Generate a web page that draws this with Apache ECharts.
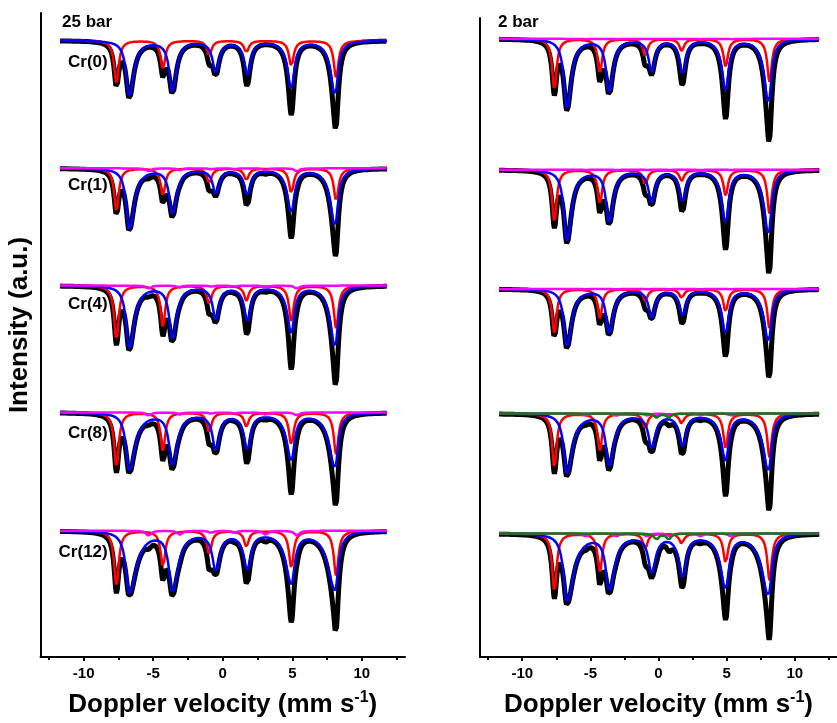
<!DOCTYPE html>
<html><head><meta charset="utf-8">
<script src="https://cdn.jsdelivr.net/npm/echarts@6/dist/echarts.min.js"></script>
<style>html,body{margin:0;padding:0;background:#fff}#c{width:837px;height:723px}</style>
</head><body><div id="c"></div>
<script>
// ---------------- data ----------------
const samples = ['Cr(0)', 'Cr(1)', 'Cr(4)', 'Cr(8)', 'Cr(12)'];
const panelTitles = ['25 bar', '2 bar'];
const xTicks = [-10, -5, 0, 5, 10];
const xMinorTicks = [-12.5, -7.5, -2.5, 2.5, 7.5, 12.5];
const velocityRange = [-11.7, 11.8];

// line positions (mm/s)
const redPos = [-7.64, -4.30, -0.97, 1.70, 4.93, 8.15];
const bluePos = [-6.72, -3.62, -0.50, 1.78, 4.93, 8.07];
const magPos = [-5.33, -3.08, -0.84, 0.84, 3.08, 5.33];
const greenPos = [-0.15, 0.75];

// 25 bar panel: baselines and line depths (a.u.)
const base25 = [620.3, 491.7, 373.7, 246, 127];
const red25 = [
  [42.6, 28.6, 15, 12, 26, 37.6],
  [42.3, 27.3, 15, 12, 25, 33],
  [54.3, 41, 19, 15, 36, 42.7],
  [55, 38.3, 20, 14, 33, 42],
  [56, 36, 24, 16, 37, 45]
];
const blue25 = [
  [56, 51, 32, 33.3, 47.6, 54.3],
  [60.7, 45.7, 24, 25.7, 43.3, 57.3],
  [62.7, 52.7, 32.7, 34, 46, 61],
  [58.3, 52.3, 36.7, 36, 46.7, 55],
  [62.7, 59.3, 37.7, 36, 51, 59.3]
];
const mag25 = [null, [3, 2, 1, 1, 2, 3], [3, 2, 1, 1, 2, 3], [3, 2, 1, 1, 2, 3], [5, 4, 2, 2, 4, 5]];
const green25 = [null, null, null, null, null];
const redHW25 = [0.2, 0.2, 0.2, 0.2, 0.2];
const blueHWout25 = [0.27, 0.27, 0.27, 0.28, 0.3];
const blueHWin25 = [0.38, 0.42, 0.42, 0.5, 0.6];

// 2 bar panel
const base2 = [622, 490.3, 370.3, 245, 124.3];
const red2 = [
  [51, 34.3, 18, 12, 28, 43],
  [52.7, 34.3, 15, 11, 26, 44],
  [44.3, 29.3, 12, 9, 23, 40],
  [54.7, 37.3, 15, 10, 35, 44],
  [58.3, 38.3, 15, 10, 30, 47]
];
const blue2 = [
  [69.3, 52.7, 31.7, 34, 51, 64.3],
  [71, 52, 32.7, 31, 52.7, 64.3],
  [57.7, 43.7, 27.7, 26, 44.3, 52.7],
  [60.7, 52.3, 34, 31, 45.7, 57.3],
  [68.3, 55, 36.7, 42, 53.3, 61.7]
];
const mag2 = [[0.3, 0.3, 0.2, 0.2, 0.3, 0.3], [0.3, 0.3, 0.2, 0.2, 0.3, 0.3], [0.3, 0.3, 0.2, 0.2, 0.3, 0.3], [2, 2, 2, 2, 2, 2], [3, 3, 3, 3, 3, 3]];
const green2 = [null, null, null, [4, 4], [6, 6]];
const redHW2 = [0.2, 0.2, 0.2, 0.2, 0.2];
const blueHWout2 = [0.27, 0.27, 0.27, 0.28, 0.3];
const blueHWin2 = [0.38, 0.4, 0.4, 0.48, 0.58];

// label anchor (velocity) and heights of the sample labels
const labelX = -8.27;
const labelY25 = [598.8, 474.8, 355.2, 225.2, 105.2];

// ---------------- model curves (Lorentzian lines from read parameters) ----------------
function lor(x, c, d, wl, wr) {
  const w = x < c ? wl : wr;
  const t = (x - c) / w;
  return d / (1 + t * t);
}
function sextet(x, pos, dep, wo, wi) {
  const cen = (pos[0] + pos[pos.length - 1]) / 2;
  const half = Math.abs(pos[pos.length - 1] - cen);
  let s = 0;
  for (let i = 0; i < pos.length; i++) {
    const f = Math.abs(pos[i] - cen) / half;
    const wIn = wo + (wi - wo) * f;
    if (pos[i] < cen) s += lor(x, pos[i], dep[i], wo, wIn);
    else s += lor(x, pos[i], dep[i], wIn, wo);
  }
  return s;
}
const N = 1175;
const xs = [];
for (let i = 0; i <= N; i++) xs.push(velocityRange[0] + (velocityRange[1] - velocityRange[0]) * i / N);

const series = [];
function addPanel(g, base, red, blue, mag, green, rhw, bo, bi) {
  for (let k = 0; k < base.length; k++) {
    const blk = [], rd = [], bl = [], mg = [], gr = [];
    for (const x of xs) {
      const r = sextet(x, redPos, red[k], rhw[k], rhw[k]);
      const b = sextet(x, bluePos, blue[k], bo[k], bi[k]);
      const m = mag[k] ? sextet(x, magPos, mag[k], 0.2, 0.2) : 0;
      const gg = green[k] ? sextet(x, greenPos, green[k], 0.2, 0.2) : 0;
      blk.push([x, base[k] - r - b - m - gg]);
      rd.push([x, base[k] - r]);
      bl.push([x, base[k] - b]);
      if (mag[k]) mg.push([x, base[k] - m]);
      if (green[k]) gr.push([x, base[k] - gg]);
    }
    const common = { type: 'line', xAxisIndex: g * 2, yAxisIndex: g, showSymbol: false, symbol: 'none', silent: true, animation: false, smooth: false };
    series.push(Object.assign({}, common, { data: blk, z: 2, lineStyle: { color: '#000', width: 5 } }));
    series.push(Object.assign({}, common, { data: rd, z: 3, lineStyle: { color: '#ff0000', width: 2.5 } }));
    series.push(Object.assign({}, common, { data: bl, z: 4, lineStyle: { color: '#0000ff', width: 2.5 } }));
    if (mag[k]) series.push(Object.assign({}, common, { data: mg, z: 5, lineStyle: { color: '#ff00ff', width: 2.5 } }));
    if (green[k]) series.push(Object.assign({}, common, { data: gr, z: 6, lineStyle: { color: '#0a7d0a', width: 2.5 } }));
  }
}
addPanel(0, base25, red25, blue25, mag25, green25, redHW25, blueHWout25, blueHWin25);
addPanel(1, base2, red2, blue2, mag2, green2, redHW2, blueHWout2, blueHWin2);

const FONT = 'Liberation Sans';
series.push({
  type: 'scatter', xAxisIndex: 0, yAxisIndex: 0, symbolSize: 0, silent: true, animation: false,
  itemStyle: { color: '#000', opacity: 1 },
  data: samples.map((s, i) => ({ value: [labelX, labelY25[i]], name: s })),
  label: { show: true, position: 'left', distance: 0, formatter: p => p.name, color: '#000', opacity: 1, textBorderWidth: 0, fontSize: 17, fontWeight: 'bold', fontFamily: FONT },
  z: 10
});

function mainX(g) {
  return {
    type: 'value', gridIndex: g, min: -13.1, max: 13.1, position: 'bottom',
    axisLine: { show: true, onZero: false, lineStyle: { color: '#000', width: 2 } },
    axisTick: { show: true, customValues: xTicks, length: 4, lineStyle: { color: '#000', width: 2 } },
    axisLabel: { show: true, customValues: xTicks, margin: 9, color: '#000', fontSize: 15, fontWeight: 'bold', fontFamily: FONT },
    splitLine: { show: false },
    name: '{a|Doppler velocity (mm s}{b|-1}{a|)}',
    nameLocation: 'middle', nameGap: 33,
    nameTextStyle: {
      rich: {
        a: { fontSize: 26, fontWeight: 'bold', fontFamily: FONT, color: '#000', lineHeight: 30 },
        b: { fontSize: 16, fontWeight: 'bold', fontFamily: FONT, color: '#000', lineHeight: 26, verticalAlign: 'top' }
      }
    }
  };
}
function minorX(g) {
  return {
    type: 'value', gridIndex: g, min: -13.1, max: 13.1, position: 'bottom', offset: 0,
    axisLine: { show: false, onZero: false },
    axisTick: { show: true, customValues: xMinorTicks, length: 3, lineStyle: { color: '#000', width: 2 } },
    axisLabel: { show: false },
    splitLine: { show: false }
  };
}
function yAx(g, max) {
  return {
    type: 'value', gridIndex: g, min: 0, max: max,
    axisLine: { show: true, onZero: false, lineStyle: { color: '#000', width: 2 } },
    axisTick: { show: false }, axisLabel: { show: false }, splitLine: { show: false }
  };
}

const chart = echarts.init(document.getElementById('c'), null, { renderer: 'canvas' });
chart.setOption({
  animation: false,
  backgroundColor: '#fff',
  grid: [
    { left: 40.5, top: 13, width: 364.5, bottom: 62 },
    { left: 480, top: 18, width: 364.5, bottom: 62 }
  ],
  xAxis: [mainX(0), minorX(0), mainX(1), minorX(1)],
  yAxis: [yAx(0, 648), yAx(1, 643)],
  series: series,
  graphic: [
    { type: 'text', x: 62, y: 22, style: { text: panelTitles[0], fontSize: 17, fontWeight: 'bold', fontFamily: FONT, fill: '#000', align: 'left', verticalAlign: 'middle' } },
    { type: 'text', x: 498, y: 22, style: { text: panelTitles[1], fontSize: 17, fontWeight: 'bold', fontFamily: FONT, fill: '#000', align: 'left', verticalAlign: 'middle' } },
    { type: 'text', x: 20, y: 325, rotation: Math.PI / 2, style: { text: 'Intensity (a.u.)', fontSize: 26, fontWeight: 'bold', fontFamily: FONT, fill: '#000', align: 'center', verticalAlign: 'middle' } }
  ]
});
</script>
</body></html>
